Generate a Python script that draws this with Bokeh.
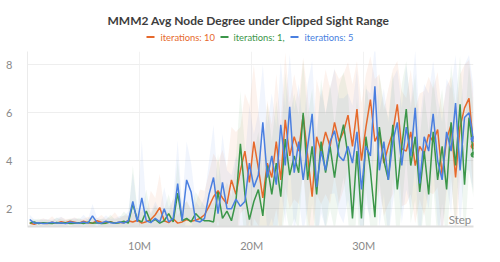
from bokeh.plotting import figure
from bokeh.layouts import column
from bokeh.models import Range1d, Label, FixedTicker
from bokeh.core.properties import value
from bokeh.embed import file_html
from bokeh.resources import INLINE

# x positions in millions of steps
steps = [0.2 + 0.4 * i for i in range(100)]

orange = [1.40,1.35,1.42,1.40,1.38,1.44,1.40,1.46,1.42,1.48,
          1.44,1.40,1.48,1.42,1.40,1.50,1.44,1.42,1.46,1.40,
          1.44,1.42,1.50,1.45,1.52,1.40,1.46,1.55,1.75,2.05,
          1.50,1.42,1.58,1.40,1.45,1.55,1.48,1.52,1.60,1.75,
          2.10,2.50,2.75,2.45,2.20,3.20,2.60,3.60,4.40,3.10,
          4.80,3.70,2.45,3.90,3.30,4.80,3.20,5.70,4.20,5.00,
          4.40,5.90,4.20,2.50,5.00,4.40,5.20,4.60,5.60,4.80,
          5.20,5.90,4.60,6.15,4.00,5.40,6.55,4.80,5.20,3.90,
          4.60,5.20,6.35,4.50,4.40,5.20,3.80,4.60,4.30,5.10,
          4.80,5.30,3.40,4.90,5.50,3.30,5.40,6.20,6.60,4.60]
green = [1.40,1.45,1.38,1.42,1.40,1.38,1.43,1.40,1.42,1.38,
         1.40,1.42,1.38,1.44,1.40,1.42,1.38,1.40,1.45,1.40,
         1.42,1.48,1.40,2.20,1.55,1.45,1.90,1.45,1.55,1.40,
         1.50,1.80,1.45,2.65,1.50,1.60,1.45,1.80,1.60,1.50,
         1.50,1.45,2.70,1.60,1.90,1.50,2.30,4.70,2.60,1.55,
         2.30,2.80,1.70,3.80,2.60,3.90,2.50,4.90,3.40,4.20,
         3.50,6.00,3.20,4.60,2.60,4.80,3.50,4.60,3.30,4.70,
         5.50,4.20,1.60,4.40,1.60,5.00,3.60,1.65,5.40,4.00,
         3.20,5.50,2.80,4.60,6.15,3.80,5.00,2.70,4.40,2.60,
         5.20,3.20,4.60,2.80,5.60,3.80,6.35,3.00,5.80,4.25]
blue = [1.55,1.40,1.42,1.38,1.40,1.44,1.40,1.42,1.38,1.45,
        1.42,1.40,1.45,1.40,1.70,1.42,1.40,1.48,1.42,1.40,
        1.45,1.40,1.50,2.30,1.45,2.45,1.50,1.42,1.60,1.45,
        2.00,1.45,1.60,3.05,1.50,3.20,2.70,1.50,1.45,1.60,
        2.60,3.30,1.80,3.10,2.00,2.00,2.40,2.10,2.30,3.90,
        2.90,3.40,5.60,3.30,4.20,3.00,5.50,3.80,6.25,3.50,
        4.80,3.20,4.60,5.95,2.90,4.40,3.60,4.80,5.25,4.20,
        4.00,4.60,3.90,5.20,2.80,4.60,4.20,7.10,3.60,4.80,
        3.20,4.80,5.60,3.80,5.40,4.20,6.20,3.05,5.00,4.40,
        5.95,4.00,3.20,5.20,4.40,6.40,3.60,5.80,6.00,4.90]

orange_spread = [0.10,0.15,0.10,0.20,0.15,0.25,0.10,0.20,0.15,0.10,
                 0.20,0.15,0.10,0.25,0.20,0.10,0.30,0.15,0.20,0.45,
                 0.15,0.30,0.20,0.40,0.25,0.60,0.30,1.20,0.70,1.40,
                 0.50,0.40,0.90,0.30,0.60,0.80,0.50,0.70,1.20,1.00,
                 1.40,1.80,1.20,2.00,1.50,2.20,2.60,1.80,2.40,3.20,
                 3.20,2.40,2.00,2.60,2.20,2.80,2.40,2.80,2.20,2.60,
                 2.20,2.40,2.60,2.00,2.40,2.20,2.60,2.40,2.20,2.60,
                 2.40,2.20,2.60,2.00,2.40,2.20,1.80,2.60,2.40,2.20,
                 2.40,2.60,1.80,2.40,2.20,2.60,2.40,2.20,2.60,2.40,
                 2.20,2.40,2.60,2.20,2.00,2.60,2.20,1.80,1.60,2.00]
green_spread = [0.15,0.10,0.20,0.10,0.15,0.10,0.20,0.15,0.10,0.20,
                0.15,0.20,0.10,0.15,0.25,0.10,0.20,0.15,0.30,0.15,
                0.20,0.40,0.30,1.60,0.50,0.40,0.90,0.30,0.60,0.40,
                0.50,0.80,0.40,1.40,0.60,0.70,0.50,0.90,0.80,0.60,
                0.70,0.80,1.60,1.00,1.20,1.00,1.80,2.20,2.00,1.60,
                2.00,2.40,1.80,2.60,2.20,2.60,2.20,2.80,2.40,2.60,
                2.40,2.20,2.60,2.40,2.20,2.60,2.40,2.60,2.20,2.40,
                2.20,2.60,2.40,2.20,2.60,2.20,2.40,2.60,2.20,2.40,
                2.60,2.20,2.40,2.60,2.00,2.40,2.60,2.20,2.40,2.60,
                2.20,2.60,2.40,2.20,2.40,2.60,2.00,2.40,2.20,1.80]
blue_spread = [0.20,0.15,0.10,0.20,0.15,0.10,0.20,0.25,0.15,0.10,
               0.20,0.15,0.30,0.15,0.50,0.20,0.15,0.25,0.15,0.20,
               0.25,0.30,0.40,1.20,0.50,2.40,0.60,0.40,0.70,0.50,
               0.90,0.60,0.80,1.80,0.70,1.60,1.20,0.80,0.60,0.90,
               1.40,2.20,1.20,2.00,1.60,1.40,1.80,1.60,1.80,2.40,
               2.20,2.60,2.40,2.20,2.60,2.40,2.60,2.40,2.20,2.60,
               2.40,2.20,2.60,2.20,2.40,2.60,2.40,2.20,2.60,2.40,
               2.60,2.20,2.40,2.60,2.20,2.40,2.60,1.80,2.40,2.20,
               2.40,2.60,2.20,2.40,2.60,2.20,2.40,2.60,2.20,2.40,
               2.20,2.60,2.40,2.20,2.60,2.00,2.40,2.20,2.40,2.20]

series_names = ["iterations: 10", "iterations: 1,", "iterations: 5"]
colors = ["#E6692C", "#3B9649", "#4A7FE0"]
x_ticks = [10, 20, 30]
x_tick_labels = ["10M", "20M", "30M"]
y_ticks = [2, 4, 6, 8]
title_text = "MMM2 Avg Node Degree under Clipped Sight Range"

FONT = "Lato"
W = 490

# ---- header (title + legend); its frame is aligned with the plot frame below ----
HDR_H = 50
hdr = figure(width=W, height=HDR_H, output_backend="svg", toolbar_location=None,
             x_range=Range1d(29, 475), y_range=Range1d(0, HDR_H),
             x_axis_location=None, y_axis_location=None,
             min_border=0, min_border_left=0, min_border_right=0,
             min_border_top=0, min_border_bottom=0)
hdr.grid.visible = False
hdr.outline_line_color = None
hdr.text(x=[250], y=[30.5], text=[title_text], text_align="center", text_baseline="middle",
         text_font=value(FONT), text_font_style="bold", text_font_size="12px",
         text_color="#3d3d3d")
dash_x = [148, 222, 292]
text_x = [162, 235, 306]
hdr.segment(x0=dash_x, y0=[13.5] * 3, x1=[d + 8 for d in dash_x], y1=[13.5] * 3,
            line_color=colors, line_width=2)
hdr.text(x=text_x, y=[13.5] * 3, text=series_names, text_align="left",
         text_baseline="middle", text_font=value(FONT), text_font_size="9.4px",
         text_color=colors)

# ---- main plot ----
p = figure(width=W, height=204, output_backend="svg", toolbar_location=None,
           x_range=Range1d(0, 39.8), y_range=Range1d(1.26, 8.55),
           min_border_left=27, min_border_right=17, min_border_top=1,
           min_border_bottom=27)
p.outline_line_color = None

for ys, sp, c in [(orange, orange_spread, colors[0]), (green, green_spread, colors[1]),
                  (blue, blue_spread, colors[2])]:
    lo = [a - b for a, b in zip(ys, sp)]
    hi = [a + b for a, b in zip(ys, sp)]
    p.varea(x=steps, y1=lo, y2=hi, fill_color=c, fill_alpha=0.08)

for ys, c in [(orange, colors[0]), (green, colors[1]), (blue, colors[2])]:
    p.line(steps, ys, line_color=c, line_width=1.5)
    p.scatter([steps[-1]], [ys[-1]], size=5, fill_color=c, line_color=c)

p.xaxis.ticker = FixedTicker(ticks=x_ticks)
p.xaxis.major_label_overrides = {t: l for t, l in zip(x_ticks, x_tick_labels)}
p.yaxis.ticker = FixedTicker(ticks=y_ticks)
for ax in (p.xaxis[0], p.yaxis[0]):
    ax.major_tick_line_color = None
    ax.minor_tick_line_color = None
    ax.major_label_text_color = "#8a8a8a"
    ax.major_label_text_font = FONT
    ax.major_label_text_font_size = "11px"
p.xaxis.axis_line_color = "#dddddd"
p.xaxis.axis_line_width = 2
p.xaxis.major_label_standoff = 6
p.yaxis.axis_line_color = "#ebebeb"
p.yaxis.major_label_standoff = 9
p.xgrid.grid_line_color = "#f2f2f2"
p.ygrid.grid_line_color = "#eeeeee"

p.add_layout(Label(x=39.6, y=1.55, text="Step", text_align="right", text_baseline="middle",
                   text_font=FONT, text_font_size="11.5px", text_color="#8a8a8a"))

layout = column(hdr, p, spacing=0)
open("out.html", "w").write(file_html(layout, INLINE))
